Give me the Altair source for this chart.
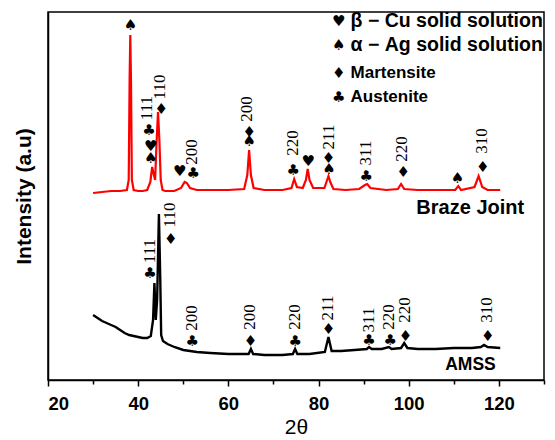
import altair as alt
import pandas as pd

# ---------------- data ----------------
# Braze Joint trace (red): 2-theta and intensity (arbitrary units)
braze_2theta = [30, 32, 34, 36, 37.5, 37.9, 38.1, 38.25, 38.4, 38.6, 39, 40, 41, 42, 42.7,
                43.1, 43.5, 43.75, 44.1, 44.4, 44.7, 45.0, 45.4, 46, 48, 49.5, 50.3, 50.8,
                51.5, 53, 56, 60, 63.5, 64.2, 64.6, 65.0, 65.6, 68, 72, 74, 74.6, 75.2, 76.5,
                77.2, 77.6, 78.0, 78.8, 81.3, 81.9, 82.2, 82.6, 83.3, 86, 89, 90.3, 90.8, 91.5,
                95, 97.6, 98.3, 99, 102, 106, 110.3, 111, 111.6, 114.6, 115.5, 116.3, 117.5, 120.3]
braze_counts = [187, 188, 189, 189, 190, 200, 300, 345, 300, 200, 190, 189, 189, 190, 198,
                213, 205, 200, 240, 268, 240, 200, 190, 189, 189, 192, 198, 197,
                192, 190, 190, 190, 191, 205, 230, 205, 192, 190, 190, 192, 201, 193, 192,
                200, 211, 200, 192, 192, 200, 204, 198, 191, 190, 191, 195, 196, 192,
                190, 191, 196, 191, 190, 190, 190, 194, 190, 193, 204, 193, 190, 190]

# AMSS trace (black)
amss_2theta = [30, 31, 32, 33, 34, 35, 36, 37, 38, 39, 40, 41, 42, 42.8, 43.3, 43.6, 43.9,
               44.2, 44.6, 44.9, 45.1, 45.5, 46.5, 48, 50, 53, 56, 60, 63, 64.5, 65, 65.5,
               68, 72, 74.3, 74.8, 75.3, 78, 81.4, 82.2, 82.9, 85, 88, 90.7, 91.2, 91.8, 94,
               95.6, 96.2, 98.3, 99.0, 99.7, 102, 106, 110, 114, 116, 116.7, 117.5, 120.3]
amss_counts = [65, 62, 59, 57, 55, 53, 50, 47, 45, 44, 43, 42, 42, 44, 60, 97, 60,
               80, 166, 100, 45, 39, 36, 33, 30, 28, 27, 26, 26, 26, 31, 26,
               25, 25, 26, 31, 26, 26, 28, 43, 29, 29, 30, 31, 33, 31, 31,
               33, 31, 32, 37, 32, 31, 31, 32, 32, 33, 35, 33, 32]

SPADE, HEART, DIAMOND, CLUB = "\u2660", "\u2665", "\u2666", "\u2663"

# phase markers on the Braze Joint trace
braze_sym_x = [38.3, 42.8, 42.8, 42.4, 45.1, 49.2, 52.2, 64.6, 64.6, 74.4, 77.7, 82.2, 82.3,
               90.6, 98.8, 110.8, 116.4]
braze_sym_y = [355, 222, 234, 250, 271, 209, 207, 248, 239, 210, 219, 222, 211,
               204, 208, 202, 213]
braze_sym = [SPADE, SPADE, HEART, CLUB, DIAMOND, HEART, CLUB, DIAMOND, SPADE, CLUB, HEART,
             DIAMOND, SPADE, CLUB, DIAMOND, SPADE, DIAMOND]

# Miller indices on the Braze Joint trace
braze_hkl_x = [42.0, 44.9, 52.0, 64.2, 74.4, 82.3, 90.6, 98.6, 116.2]
braze_hkl_y = [272, 293, 228, 271, 237, 243, 227, 231, 239]
braze_hkl = ["111", "110", "200", "200", "220", "211", "311", "220", "310"]

# phase markers on the AMSS trace
amss_sym_x = [42.6, 47.2, 52.0, 64.9, 74.8, 82.2, 91.2, 95.9, 99.3, 117.5]
amss_sym_y = [107, 141, 39, 39, 39, 51, 40, 40, 44, 44]
amss_sym = [CLUB, DIAMOND, CLUB, DIAMOND, CLUB, DIAMOND, CLUB, CLUB, DIAMOND, DIAMOND]

# Miller indices on the AMSS trace
amss_hkl_x = [42.6, 47.0, 52.0, 64.9, 74.8, 82.2, 91.2, 95.7, 99.1, 117.4]
amss_hkl_y = [129, 165, 62, 63, 63, 72, 60, 63, 70, 70]
amss_hkl = ["111", "110", "200", "200", "220", "211", "311", "220", "220", "310"]

# sample names
braze_name_x, braze_name_y, braze_name = [125.6], [172], ["Braze Joint"]
amss_name_x, amss_name_y, amss_name = [119.3], [15], ["AMSS"]

# legend (two phase-solution rows, then two steel-phase rows)
legend_sym = [HEART, SPADE, DIAMOND, CLUB]
legend_sym_x = [84.5, 84.5, 84.5, 84.5]
legend_y = [359, 335, 307, 283]
legend_text_a = ["\u03b2 \u2212 Cu solid solution", "\u03b1 \u2212 Ag solid solution"]
legend_text_a_x = [87.1, 87.1]
legend_text_a_y = [359, 335]
legend_text_b = ["Martensite", "Austenite"]
legend_text_b_x = [87.1, 87.1]
legend_text_b_y = [307, 283]

# x-axis ticks
major_ticks = [20, 40, 60, 80, 100, 120]
minor_ticks = [30, 50, 70, 90, 110, 130]

# ---------------- chart ----------------
xs = alt.Scale(domain=[20, 130], nice=False, zero=False)
ys = alt.Scale(domain=[0, 368], nice=False, zero=False)

df_braze = pd.DataFrame({"tt": braze_2theta, "val": braze_counts})
df_amss = pd.DataFrame({"tt": amss_2theta, "val": amss_counts})
df_bsym = pd.DataFrame({"tt": braze_sym_x, "val": braze_sym_y, "t": braze_sym})
df_asym = pd.DataFrame({"tt": amss_sym_x, "val": amss_sym_y, "t": amss_sym})
df_hkl = pd.DataFrame({"tt": braze_hkl_x + amss_hkl_x, "val": braze_hkl_y + amss_hkl_y,
                       "t": braze_hkl + amss_hkl})
df_bname = pd.DataFrame({"tt": braze_name_x, "val": braze_name_y, "t": braze_name})
df_aname = pd.DataFrame({"tt": amss_name_x, "val": amss_name_y, "t": amss_name})
df_lsym = pd.DataFrame({"tt": legend_sym_x, "val": legend_y, "t": legend_sym})
df_lta = pd.DataFrame({"tt": legend_text_a_x, "val": legend_text_a_y, "t": legend_text_a})
df_ltb = pd.DataFrame({"tt": legend_text_b_x, "val": legend_text_b_y, "t": legend_text_b})
df_minor = pd.DataFrame({"tt": minor_ticks})

x_axis = alt.Axis(
    values=major_ticks,
    title="2\u03b8",
    grid=False, orient="bottom",
    domainColor="black", domainWidth=1.5,
    tickColor="black", tickWidth=1.5, tickSize=6,
    labelFont="Liberation Sans", labelFontWeight="bold", labelFontSize=18.5,
    labelColor="black", labelPadding=8,
    titleFont="Liberation Sans", titleFontWeight="normal", titleFontSize=21,
    titleColor="black", titlePadding=4,
)
minor_axis = alt.Axis(
    values=minor_ticks, orient="bottom", labels=False, domain=False, grid=False,
    tickColor="black", tickWidth=1.5, tickSize=4, title=None,
)
y_axis = alt.Axis(
    title="Intensity (a.u)", labels=False, ticks=False, grid=False,
    domainColor="black", domainWidth=1.5,
    titleFont="Liberation Sans", titleFontWeight="bold", titleFontSize=21,
    titleColor="black", titlePadding=14,
)

X_main = alt.X("tt:Q", scale=xs, axis=x_axis)
X = alt.X("tt:Q", scale=xs, axis=None)
Y = alt.Y("val:Q", scale=ys, axis=y_axis)

amss_line = alt.Chart(df_amss).mark_line(color="black", strokeWidth=2.4).encode(x=X_main, y=Y)
braze_line = alt.Chart(df_braze).mark_line(color="#ff0000", strokeWidth=2.2).encode(x=X, y=Y)
minor = alt.Chart(df_minor).mark_point(opacity=0).encode(
    x=alt.X("tt:Q", scale=xs, axis=minor_axis), y=alt.value(0))


def txt(df, **kw):
    return alt.Chart(df).mark_text(color="black", baseline="middle", **kw).encode(
        x=X, y=Y, text="t:N")


sym_b = txt(df_bsym, font="DejaVu Sans", fontSize=15, align="center")
sym_a = txt(df_asym, font="DejaVu Sans", fontSize=15, align="center")
hkl = txt(df_hkl, font="Liberation Serif", fontSize=17, angle=270, align="center")
bname = txt(df_bname, font="Liberation Sans", fontWeight="bold", fontSize=20, align="right")
aname = txt(df_aname, font="Liberation Sans", fontWeight="bold", fontSize=17.5, align="right")
leg_sym = txt(df_lsym, font="DejaVu Sans", fontSize=15, align="center")
leg_a = txt(df_lta, font="Liberation Sans", fontWeight="bold", fontSize=19.5, align="left")
leg_b = txt(df_ltb, font="Liberation Sans", fontWeight="bold", fontSize=17, align="left")

chart = alt.layer(
    amss_line, minor, braze_line, sym_b, sym_a, hkl, bname, aname, leg_sym, leg_a, leg_b
).resolve_axis(x="independent").properties(
    width=496, height=368,
    autosize=alt.AutoSizeParams(type="none"),
    padding={"left": 48, "top": 12, "right": 11, "bottom": 60},
    background="white",
).configure_view(stroke="black", strokeWidth=1.5)

chart.save("out.html", embed_options={"renderer": "svg", "actions": False})
